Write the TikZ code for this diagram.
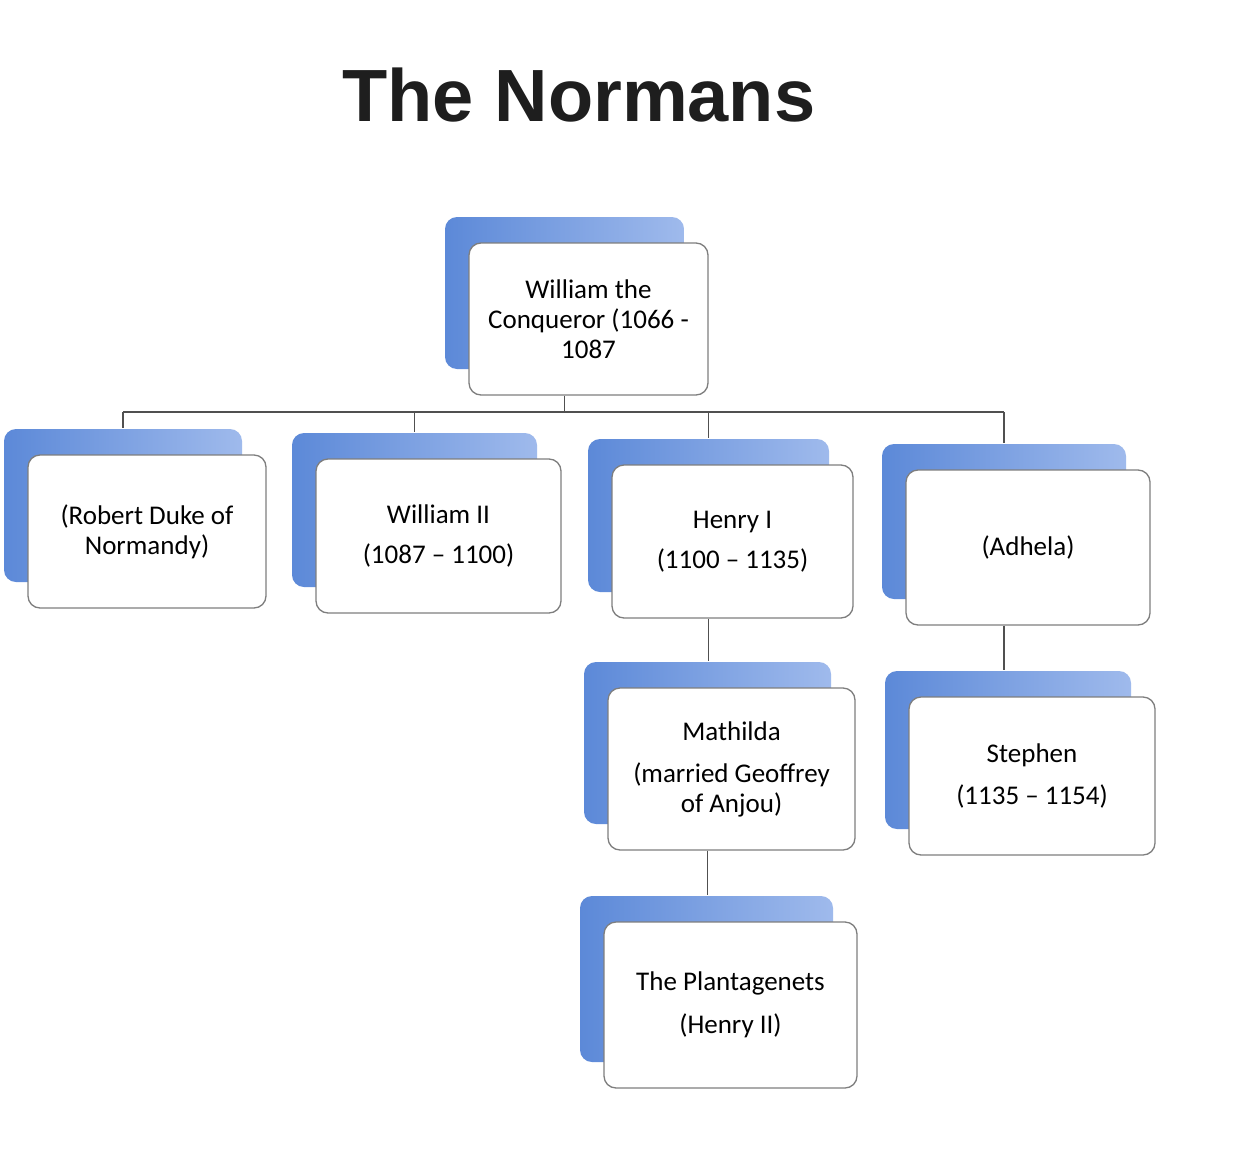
\documentclass[tikz,border=0pt]{standalone}
\usepackage{fontspec}
\setmainfont{Carlito}
\newfontfamily\titlefont{Liberation Sans}
\usetikzlibrary{shadows,calc}
\definecolor{boxline}{HTML}{7E7E7E}
\definecolor{linegray}{HTML}{505050}
\definecolor{backdark}{HTML}{5C89D8}
\definecolor{backlight}{HTML}{9FBAEC}
\definecolor{titlegray}{HTML}{1E1E1E}
\begin{document}
\begin{tikzpicture}[x=1pt,y=-1pt,
  person/.style={draw=boxline, line width=1.3pt, fill=white, rounded corners=12pt,
    align=center, font=\fontsize{27}{30}\selectfont, inner sep=0pt,
    general shadow={shadow xshift=-24pt, shadow yshift=26pt, draw=none,
      left color=backdark, right color=backlight}},
  link/.style={draw=linegray, line width=1.3pt}]
\useasboundingbox (0,0) rectangle (1236,1164);
\fill[white] (0,0) rectangle (1236,1164);

\node[font=\titlefont\bfseries\fontsize{74}{80}\selectfont, text=titlegray] (title) at (579,95) {The Normans};

\node[person, minimum width=239pt, minimum height=152pt] (william) at (588.5,319)
  {William the\\Conqueror (1066 -\\1087};
\node[person, minimum width=238pt, minimum height=153pt] (robert) at (147,531.5)
  {(Robert Duke of\\Normandy)};
\node[person, minimum width=245pt, minimum height=154pt] (williamii) at (438.5,536)
  {William II\\[10pt](1087 -- 1100)};
\node[person, minimum width=241pt, minimum height=153pt] (henry) at (732.5,541.5)
  {Henry I\\[10pt](1100 -- 1135)};
\node[person, minimum width=244pt, minimum height=155pt] (adhela) at (1028,547.5)
  {(Adhela)};
\node[person, minimum width=247pt, minimum height=162pt] (mathilda) at (731.5,769)
  {Mathilda\\[12pt](married Geoffrey\\of Anjou)};
\node[person, minimum width=246pt, minimum height=158pt] (stephen) at (1032,776)
  {Stephen\\[12pt](1135 -- 1154)};
\node[person, minimum width=253pt, minimum height=166pt] (plantagenets) at (730.5,1005)
  {The Plantagenets\\[13pt](Henry II)};

\coordinate (bus) at (0,412);
\coordinate (mtop) at ([yshift=26pt]mathilda.north);
\coordinate (stop) at ([yshift=26pt]stephen.north);
\coordinate (ptop) at ([yshift=26pt]plantagenets.north);
\draw[link] ([xshift=-24pt]william.south) -- ([xshift=-24pt]william.south |- bus);
\draw[link] ([xshift=-24pt]robert.north |- bus) -- ([xshift=-24pt]adhela.north |- bus);
\foreach \n in {robert,williamii,henry,adhela}
  \draw[link] ([xshift=-24pt]\n.north |- bus) -- ([xshift=-24pt,yshift=26pt]\n.north);
\draw[link] ([xshift=-24pt]henry.south) -- ([xshift=-24pt]henry.south |- mtop);
\draw[link] ([xshift=-24pt]adhela.south) -- ([xshift=-24pt]adhela.south |- stop);
\draw[link] ([xshift=-24pt]mathilda.south) -- ([xshift=-24pt]mathilda.south |- ptop);
\end{tikzpicture}
\end{document}
